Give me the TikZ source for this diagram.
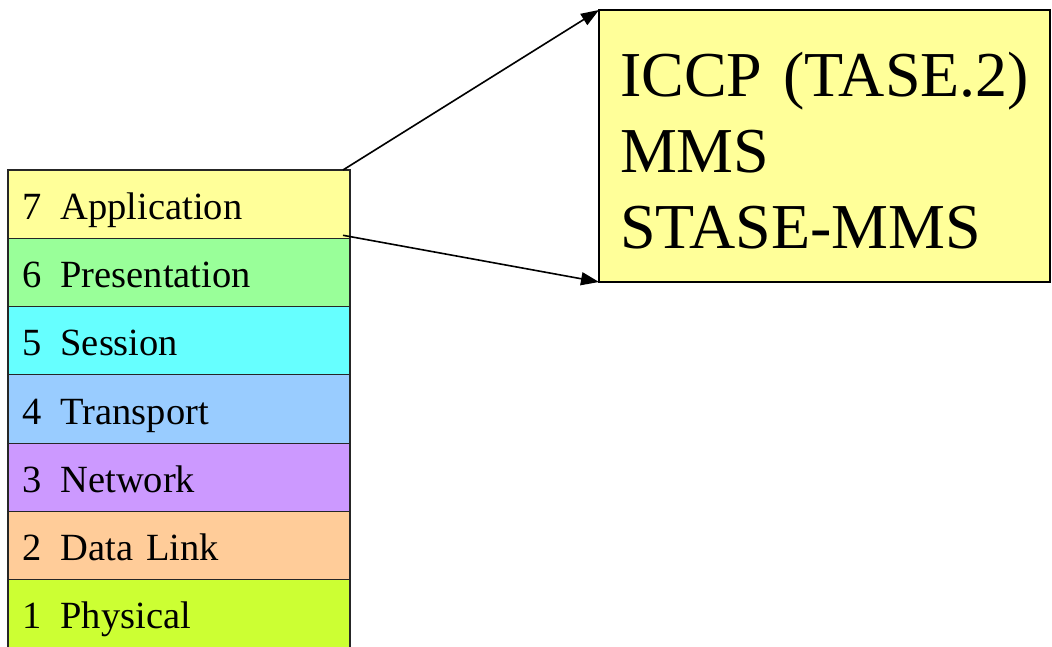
\documentclass[tikz,border=0pt]{standalone}
\usepackage{fontspec}
\setmainfont{Liberation Serif}
\usetikzlibrary{arrows.meta}
\definecolor{cApp}{HTML}{FFFF99}
\definecolor{cPres}{HTML}{99FF99}
\definecolor{cSess}{HTML}{66FFFF}
\definecolor{cTrans}{HTML}{99CCFF}
\definecolor{cNet}{HTML}{CC99FF}
\definecolor{cLink}{HTML}{FFCC99}
\definecolor{cPhys}{HTML}{CCFF33}
\tikzset{
  layer/.style={draw=black!85, line width=1.2pt, outer sep=0pt, minimum width=342pt, minimum height=68.3pt,
    anchor=north west, inner sep=0pt, text width=314pt, align=left,
    text height=30pt, text depth=0pt,
    font=\fontsize{38.5pt}{44pt}\selectfont},
  protobox/.style={draw=black, line width=1.4pt, outer sep=0pt, fill=cApp, minimum width=451pt, minimum height=272pt,
    anchor=north west, inner sep=0pt, text width=409pt, align=left,
    font=\fontsize{64pt}{76pt}\selectfont},
  link/.style={line width=1.6pt, -{Triangle[length=18pt,width=13pt]}}
}
\newcommand{\lay}[2]{#1\hspace{0.5em}#2}
\begin{document}
\begin{tikzpicture}[x=1pt,y=1pt]
  \useasboundingbox (0,0) rectangle (1052,646);
  % OSI stack
  \node[layer, fill=cApp]   (l7) at (8,476)    {\lay{7}{Application}};
  \node[layer, fill=cPres]  (l6) at (l7.south west) {\lay{6}{Presentation}};
  \node[layer, fill=cSess]  (l5) at (l6.south west) {\lay{5}{Session}};
  \node[layer, fill=cTrans] (l4) at (l5.south west) {\lay{4}{Transport}};
  \node[layer, fill=cNet]   (l3) at (l4.south west) {\lay{3}{Network}};
  \node[layer, fill=cLink]  (l2) at (l3.south west) {\lay{2}{Data Link}};
  \node[layer, fill=cPhys]  (l1) at (l2.south west) {\lay{1}{Physical}};
  % application layer protocols
  \node[protobox] (app) at (599,636)
    {\rule{0pt}{53pt}\mbox{ICCP (TASE.2)}\\MMS\\STASE-MMS};
  % expansion arrows
  \draw[link] ([xshift=-7pt]l7.north east) -- (app.north west);
  \draw[link] ([shift={(-7pt,3pt)}]l7.south east) -- (app.south west);
\end{tikzpicture}
\end{document}
